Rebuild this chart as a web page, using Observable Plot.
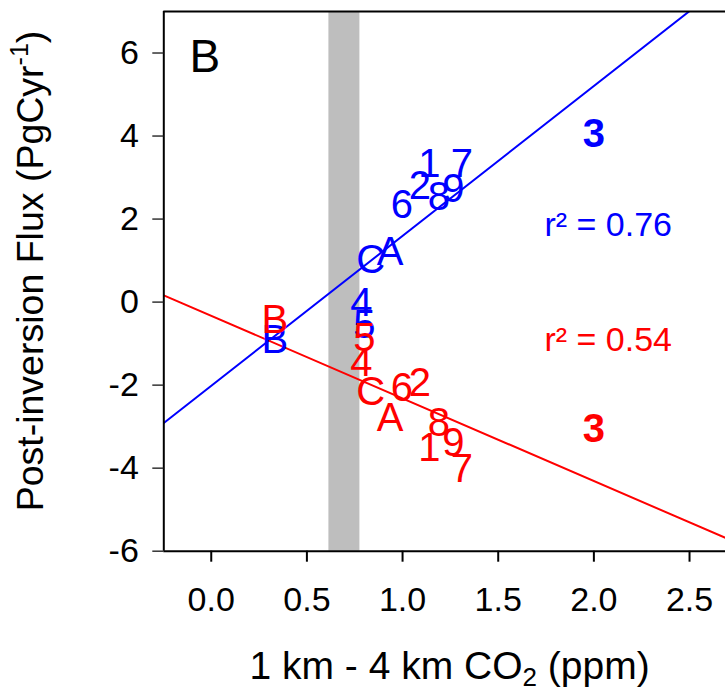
<!DOCTYPE html>
<html><head><meta charset="utf-8">
<script src="https://cdn.jsdelivr.net/npm/d3@7"></script>
<script src="https://cdn.jsdelivr.net/npm/@observablehq/plot@0.6"></script>
<style>body{margin:0;background:#fff;} svg{display:block}</style>
</head><body><div id="chart"></div>
<script>
// Model labels and values
const labels       = ["1", "2", "3", "4", "5", "6", "7", "8", "9", "A", "B", "C"];
const co2Gradient  = [1.14, 1.09, 2.0, 0.785, 0.80, 0.997, 1.31, 1.19, 1.265, 0.935, 0.333, 0.833];
const fluxBlue     = [3.33, 2.80, 4.05, -0.02, -0.55, 2.34, 3.33, 2.52, 2.73, 1.20, -0.92, 1.02];
const fluxRed      = [-3.52, -1.96, -3.05, -1.48, -0.86, -2.08, -4.03, -2.91, -3.39, -2.80, -0.44, -2.16];
const boldLabels   = ["3"];
const seriesColors = ["#0000ff", "#ff0000"];
const fitIntercepts = [-2.015, -0.33];
const fitSlopes     = [3.61, -1.99];
const r2Values      = [0.76, 0.54];
const r2X           = [2.075, 2.075];
const r2Y           = [1.86, -0.91];
const bandStart     = [0.615];
const bandEnd       = [0.777];
const xTicks = [0, 0.5, 1.0, 1.5, 2.0, 2.5];
const yTicks = [-6, -4, -2, 0, 2, 4, 6];
const panelLabel = ["B"];

const FONT = "'Liberation Sans', Arial, Helvetica, sans-serif";
const xDomain = [-0.248, 2.688];
const yDomain = [-6, 7];

const rows = labels.map((label, i) => ({label, x: co2Gradient[i], blue: fluxBlue[i], red: fluxRed[i]}));
const normalRows = rows.filter(d => !boldLabels.includes(d.label));
const boldRows = rows.filter(d => boldLabels.includes(d.label));
const bands = bandStart.map((s, i) => ({x1: s, x2: bandEnd[i]}));
const fitLine = k => xDomain.map(x => ({x, y: fitIntercepts[k] + fitSlopes[k] * x}));
const r2Rows = r2Values.map((v, i) => ({x: r2X[i], y: r2Y[i], text: `r² = ${v.toFixed(2)}`, color: seriesColors[i]}));

const chart = Plot.plot({
  width: 725, height: 691,
  marginLeft: 163.3, marginRight: 0, marginTop: 11, marginBottom: 140.3,
  style: {fontFamily: FONT, background: "#fff", color: "#000"},
  x: {domain: xDomain},
  y: {domain: yDomain},
  marks: [
    Plot.rect(bands, {x1: "x1", x2: "x2", fill: "#bebebe"}),
    Plot.line(fitLine(0), {x: "x", y: "y", stroke: seriesColors[0], strokeWidth: 2, clip: true}),
    Plot.line(fitLine(1), {x: "x", y: "y", stroke: seriesColors[1], strokeWidth: 2, clip: true}),
    Plot.text(normalRows, {x: "x", y: "blue", text: "label", fill: seriesColors[0], fontSize: 40, textAnchor: "middle", lineAnchor: "middle"}),
    Plot.text(boldRows, {x: "x", y: "blue", text: "label", fill: seriesColors[0], fontSize: 40, fontWeight: "bold", textAnchor: "middle", lineAnchor: "middle"}),
    Plot.text(normalRows, {x: "x", y: "red", text: "label", fill: seriesColors[1], fontSize: 40, textAnchor: "middle", lineAnchor: "middle"}),
    Plot.text(boldRows, {x: "x", y: "red", text: "label", fill: seriesColors[1], fontSize: 40, fontWeight: "bold", textAnchor: "middle", lineAnchor: "middle"}),
    Plot.text(r2Rows, {x: "x", y: "y", text: "text", fill: "color", fontSize: 34, textAnchor: "middle", lineAnchor: "middle"}),
    Plot.text(panelLabel, {frameAnchor: "top-left", dx: 41, dy: 46, fontSize: 46, textAnchor: "middle", lineAnchor: "middle", fill: "#000"}),
    Plot.ruleX([xDomain[0]], {stroke: "#000", strokeWidth: 2}),
    Plot.ruleY(yDomain, {stroke: "#000", strokeWidth: 2}),
    Plot.axisY({ticks: yTicks, tickFormat: d => String(d), tickSize: 11, tickPadding: 14, fontSize: 34, label: null, stroke: "#333", strokeWidth: 1.5}),
    Plot.axisX({ticks: xTicks, tickFormat: d3.format(".1f"), tickSize: 11, tickPadding: 25, fontSize: 34, label: null, stroke: "#000", strokeWidth: 2})
  ]
});

const svg = d3.select(chart);
// y-axis title
const yt = svg.append("text")
  .attr("transform", "translate(43,271) rotate(-90)")
  .attr("text-anchor", "middle")
  .attr("font-size", 37.5)
  .attr("font-family", FONT)
  .attr("fill", "#000");
yt.append("tspan").text("Post-inversion Flux (PgCyr");
yt.append("tspan").attr("dy", -15).attr("font-size", 25).text("-1");
yt.append("tspan").attr("dy", 15).text(")");
// x-axis title
const xt = svg.append("text")
  .attr("x", 449.6).attr("y", 679)
  .attr("text-anchor", "middle")
  .attr("font-size", 39)
  .attr("font-family", FONT)
  .attr("fill", "#000");
xt.append("tspan").text("1 km - 4 km CO");
xt.append("tspan").attr("dy", 7).attr("font-size", 26).text("2");
xt.append("tspan").attr("dy", -7).text(" (ppm)");

document.getElementById("chart").appendChild(chart);
</script>
</body></html>
